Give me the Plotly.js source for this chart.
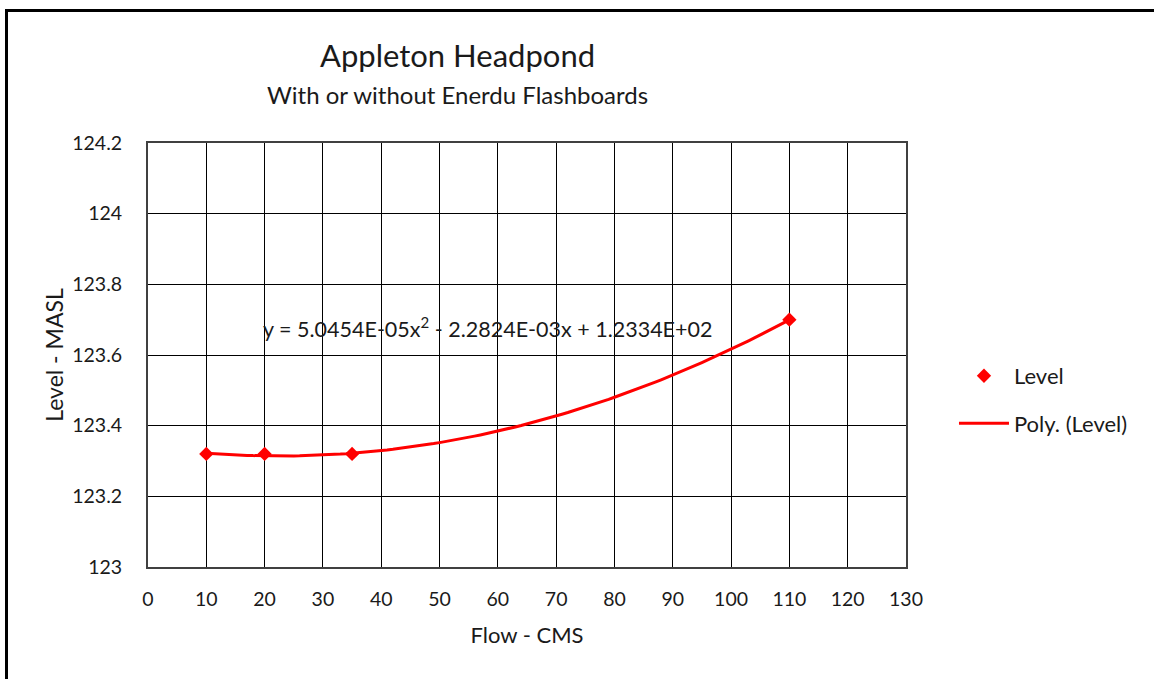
<!DOCTYPE html>
<html>
<head>
<meta charset="utf-8">
<script src="https://cdn.plot.ly/plotly-3.0.1.min.js"></script>
<style>
html,body{margin:0;padding:0;background:#fff;}
#wrap{position:relative;width:1154px;height:679px;overflow:hidden;}
#chart{position:absolute;left:0;top:0;width:1154px;height:679px;}
#frame{position:absolute;left:5px;top:9px;width:1200px;height:800px;border-left:3px solid #000;border-top:3px solid #000;pointer-events:none;}
</style>
</head>
<body>
<div id="wrap"><div id="chart"></div><div id="frame"></div></div>
<script>
// Data
const flow = [10, 20, 35, 110];
const level = [123.32, 123.32, 123.32, 123.70];
// Trendline coefficients displayed on the chart (a x^2 + b x + c)
const polyCoef = [5.0454E-05, -2.2824E-03, 1.2334E+02];
const xTicks = [0,10,20,30,40,50,60,70,80,90,100,110,120,130];
const yTicks = [123,123.2,123.4,123.6,123.8,124,124.2];
const yTickText = ['123','123.2','123.4','123.6','123.8','124','124.2'];

// Trendline sampled across data extent
const fitX = [];
const fitY = [];
const xmin = Math.min(...flow), xmax = Math.max(...flow);
for (let i = 0; i <= 100; i++) {
  const x = xmin + (xmax - xmin) * i / 100;
  fitX.push(x);
  fitY.push(polyCoef[0]*x*x + polyCoef[1]*x + polyCoef[2]);
}

const FONT = 'Lato, "Open Sans", sans-serif';
const TXT = '#1a1a1a';

const traces = [
  {
    x: flow, y: level, mode: 'markers', type: 'scatter', name: 'Level',
    legendgroup: 'a',
    marker: {symbol: 'diamond', size: 11, color: '#FF0000'}
  },
  {
    x: fitX, y: fitY, mode: 'lines', type: 'scatter', name: 'Poly. (Level)',
    legendgroup: 'b',
    line: {color: '#FF0000', width: 3}
  }
];

const layout = {
  width: 1154, height: 679,
  margin: {l: 148, r: 248, t: 143, b: 112},
  paper_bgcolor: '#fff', plot_bgcolor: '#fff',
  font: {family: FONT, size: 19, color: TXT},
  showlegend: true,
  legend: {x: 1.0633, y: 0.394, xanchor: 'left', yanchor: 'middle',
    font: {family: FONT, size: 22, color: TXT},
    traceorder: 'grouped', tracegroupgap: 16, itemwidth: 50,
    bgcolor: 'rgba(0,0,0,0)'},
  xaxis: {
    range: [0, 130], tickvals: xTicks, ticktext: xTicks.map(String),
    showgrid: true, gridcolor: '#000', gridwidth: 1,
    showline: true, linecolor: '#404040', linewidth: 2, mirror: true,
    zeroline: false, ticks: '', ticklabelstandoff: 14,
    tickfont: {family: FONT, size: 19.5, color: TXT},
    title: {text: 'Flow - CMS', font: {family: FONT, size: 22, color: TXT}, standoff: 18}
  },
  yaxis: {
    range: [123, 124.2], tickvals: yTicks, ticktext: yTickText,
    showgrid: true, gridcolor: '#000', gridwidth: 1,
    showline: true, linecolor: '#404040', linewidth: 2, mirror: true,
    zeroline: false, ticks: '', ticklabelstandoff: 20,
    tickfont: {family: FONT, size: 19.5, color: TXT},
    title: {text: 'Level - MASL', font: {family: FONT, size: 23, color: TXT}, standoff: 2}
  },
  annotations: [
    {text: 'Appleton Headpond', xref: 'paper', yref: 'paper', x: 0, y: 1.2,
      xanchor: 'center', yanchor: 'middle', showarrow: false,
      font: {family: FONT, size: 31, color: TXT}},
    {text: 'With or without Enerdu Flashboards', xref: 'paper', yref: 'paper', x: 0, y: 1.1108,
      xanchor: 'center', yanchor: 'middle', showarrow: false,
      font: {family: FONT, size: 24, color: TXT}},
    {text: 'y = 5.0454E-05x<sup>2</sup> - 2.2824E-03x + 1.2334E+02', xref: 'x', yref: 'y',
      x: 58.3, y: 123.679, xanchor: 'center', yanchor: 'middle', showarrow: false,
      font: {family: FONT, size: 21.5, color: TXT}}
  ]
};
// center titles around x ~457 px; title rows at y ~55 and ~94 px
layout.annotations[0].x = (457 - 148) / (906 - 148);
layout.annotations[1].x = (457 - 148) / (906 - 148);
layout.annotations[0].y = (567 - 55) / (567 - 143);
layout.annotations[1].y = (567 - 94) / (567 - 143);

Plotly.newPlot('chart', traces, layout, {displayModeBar: false, staticPlot: true});
</script>
</body>
</html>
